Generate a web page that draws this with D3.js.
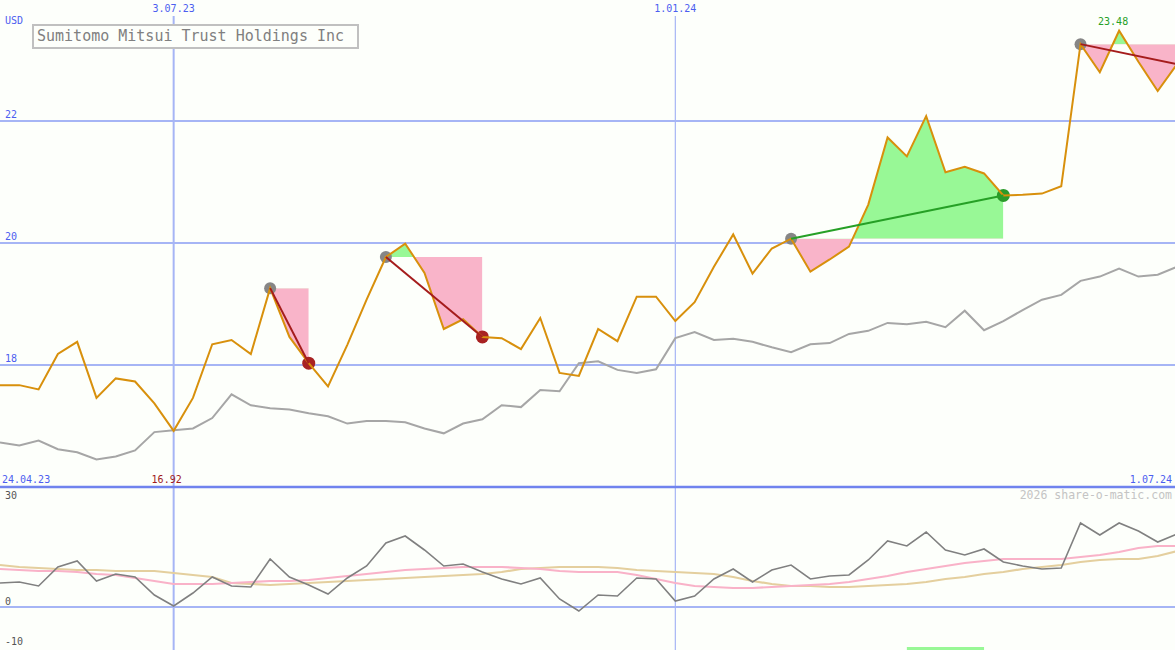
<!DOCTYPE html>
<html><head><meta charset="utf-8">
<script src="https://cdn.jsdelivr.net/npm/d3@7"></script>
<style>html,body{margin:0;padding:0;background:#fdfffb;} svg{display:block}</style>
</head><body><svg id="chart" width="1175" height="650"></svg>
<script>
// ---- data ----
const title = "Sumitomo Mitsui Trust Holdings Inc";
const currency = "USD";
const weeks = [
 "2023-05-01","2023-05-08","2023-05-15","2023-05-22","2023-05-29",
 "2023-06-05","2023-06-12","2023-06-19","2023-06-26",
 "2023-07-03","2023-07-10","2023-07-17","2023-07-24","2023-07-31",
 "2023-08-07","2023-08-14","2023-08-21","2023-08-28",
 "2023-09-04","2023-09-11","2023-09-18","2023-09-25",
 "2023-10-02","2023-10-09","2023-10-16","2023-10-23","2023-10-30",
 "2023-11-06","2023-11-13","2023-11-20","2023-11-27",
 "2023-12-04","2023-12-11","2023-12-18","2023-12-25",
 "2024-01-01","2024-01-08","2024-01-15","2024-01-22","2024-01-29",
 "2024-02-05","2024-02-12","2024-02-19","2024-02-26",
 "2024-03-04","2024-03-11","2024-03-18","2024-03-25",
 "2024-04-01","2024-04-08","2024-04-15","2024-04-22","2024-04-29",
 "2024-05-06","2024-05-13","2024-05-20","2024-05-27",
 "2024-06-03","2024-06-10","2024-06-17","2024-06-24",
 "2024-07-01"];
const price = [17.67,17.67,17.60,18.18,18.38,17.46,17.78,17.73,17.37,16.92,
 17.46,18.34,18.41,18.18,19.26,18.46,18.03,17.65,18.33,19.07,
 19.77,19.99,19.51,18.59,18.75,18.46,18.44,18.26,18.77,17.87,
 17.82,18.59,18.39,19.12,19.12,18.72,19.03,19.61,20.14,19.50,
 19.91,20.07,19.53,19.73,19.94,20.63,21.73,21.42,22.08,21.16,
 21.25,21.14,20.78,20.79,20.81,20.93,23.26,22.80,23.48,22.97,
 22.49,22.93];
const avgLine = [16.73,16.68,16.76,16.62,16.57,16.45,16.50,16.60,16.90,16.93,
 16.96,17.13,17.52,17.34,17.29,17.27,17.21,17.16,17.04,17.08,
 17.08,17.06,16.96,16.88,17.04,17.11,17.34,17.31,17.59,17.57,
 18.03,18.06,17.92,17.87,17.93,18.44,18.54,18.41,18.43,18.38,
 18.29,18.21,18.34,18.36,18.51,18.56,18.69,18.67,18.71,18.62,
 18.89,18.57,18.72,18.90,19.07,19.15,19.38,19.45,19.58,19.45,
 19.48,19.61];
const oscillator = [6.0,6.25,5.25,10,11.5,6.5,8.25,7.5,3,0.25,
 3.5,7.5,5.25,5,12,7.5,5.5,3.25,7.25,10.25,
 16,17.75,14.25,10.25,10.75,8.75,7,5.75,7.25,2,
 -1,3,2.75,7.25,7,1.5,2.75,7,9.5,6.25,
 9.25,10.5,7,7.75,8,11.75,16.5,15.25,18.75,14.25,
 13,14.5,11.25,10.25,9.5,9.75,21,18,21,19,
 16.25,18.25];
const oscPink = [9.5,9.25,9,9,8.75,8.25,8,7.25,6.5,5.75,
 5.75,5.75,6,6.25,6.5,6.5,6.75,7.25,7.75,8.25,
 8.75,9.25,9.5,9.75,10,10,10,9.75,9.5,9,
 8.75,8.75,8.75,8,7,6,5.25,5,4.75,4.75,
 5,5.25,5.5,5.75,6.25,7,7.75,8.75,9.5,10.25,
 11,11.5,12,12,12,12,12.5,13,13.75,14.75,
 15.25,15.25];
const oscTan = [10.5,10,9.75,9.5,9.25,9.25,9,9,9,8.5,
 8,7.5,6,5.75,5.5,5.75,6,6.25,6.5,6.75,
 7,7.25,7.5,7.75,8,8.25,8.75,9.5,9.75,10,
 10,10,9.75,9.25,9,8.75,8.5,8.25,7.5,6.5,
 5.75,5.25,5.25,5,5,5.25,5.5,5.75,6.25,7,
 7.5,8.25,8.75,9.5,10,10.5,11.25,11.75,12,12,
 12.75,14];
const priceTicks = [18, 20, 22];
const oscTicks = [30, 0, -10];
const dateTicks = ["2023-07-03", "2024-01-01"];
const dateTickLabels = ["3.07.23", "1.01.24"];
const startLabel = "24.04.23";
const endLabel = "1.07.24";
const tradeEntry = [14, 20, 41, 56];
const tradeExit  = [16, 25, 52, 61];
const tradeOpen  = [false, false, false, true];
const signalStart = [47];
const signalEnd = [51];
const credit = "2026 share-o-matic.com";

// ---- layout ----
const W = 1175, H = 650;
const mainBottom = 487;
const parse = d3.timeParse("%Y-%m-%d");
const dates = weeks.map(parse);
const x = d3.scaleTime().domain([dates[0], dates[dates.length-1]]).range([0, 1177]);
const yP = d3.scaleLinear().domain([18, 22]).range([365, 121]);
const yO = d3.scaleLinear().domain([0, 30]).range([607, 487]);

const svg = d3.select("#chart");
const font = "DejaVu Sans Mono, monospace";
const blue = "#4c5ef0";
const grid = "#a6b5f5";

svg.append("rect").attr("width", W).attr("height", H).attr("fill", "#fdfffb");

// horizontal grid (main)
svg.selectAll("line.hp").data(priceTicks).join("line")
  .attr("x1", 0).attr("x2", W).attr("y1", d => yP(d)).attr("y2", d => yP(d))
  .attr("stroke", grid).attr("stroke-width", 2);
// lower zero line
svg.append("line").attr("x1", 0).attr("x2", W).attr("y1", yO(0)).attr("y2", yO(0))
  .attr("stroke", grid).attr("stroke-width", 2);

// vertical date lines
svg.selectAll("line.v").data(dateTicks).join("line")
  .attr("x1", d => x(parse(d))).attr("x2", d => x(parse(d)))
  .attr("y1", 16).attr("y2", H)
  .attr("stroke", grid).attr("stroke-width", (d, i) => i === 0 ? 2 : 1.2);

// panel separator
svg.append("line").attr("x1", 0).attr("x2", W).attr("y1", yO(30)).attr("y2", yO(30))
  .attr("stroke", "#7083ee").attr("stroke-width", 2.5);

// trade fills
const defs = svg.append("defs");
const fills = svg.append("g");
tradeEntry.forEach((e, k) => {
  const xe = x(dates[e]), xx = x(dates[tradeExit[k]]);
  const ye = yP(price[e]);
  const idx = d3.range(e, tradeExit[k] + 1);
  const area = d3.area().x(i => x(dates[i])).y0(ye).y1(i => yP(price[i]));
  defs.append("clipPath").attr("id", "up" + k).append("rect")
    .attr("x", xe).attr("y", 0).attr("width", xx - xe).attr("height", ye);
  defs.append("clipPath").attr("id", "dn" + k).append("rect")
    .attr("x", xe).attr("y", ye).attr("width", xx - xe).attr("height", mainBottom - ye);
  fills.append("path").datum(idx).attr("d", area).attr("fill", "#98f896")
    .attr("clip-path", `url(#up${k})`);
  fills.append("path").datum(idx).attr("d", area).attr("fill", "#f9b4c9")
    .attr("clip-path", `url(#dn${k})`);
});

// moving average line
const lineP = d3.line().x((d, i) => x(dates[i])).y(d => yP(d));
svg.append("path").datum(avgLine).attr("d", lineP).attr("fill", "none")
  .attr("stroke", "#a6a6a6").attr("stroke-width", 2);

// dots (beneath price line)
tradeEntry.forEach((e, k) => {
  svg.append("circle").attr("cx", x(dates[e])).attr("cy", yP(price[e])).attr("r", 6)
    .attr("fill", "#868686");
  if (!tradeOpen[k]) {
    const xi = tradeExit[k];
    const win = price[xi] > price[e];
    svg.append("circle").attr("cx", x(dates[xi])).attr("cy", yP(price[xi])).attr("r", 6.5)
      .attr("fill", win ? "#2a9a2a" : "#a82222");
  }
});

// price line
svg.append("path").datum(price).attr("d", lineP).attr("fill", "none")
  .attr("stroke", "#d8900c").attr("stroke-width", 2);

// trade lines
tradeEntry.forEach((e, k) => {
  const xi = tradeExit[k];
  const win = price[xi] > price[e];
  svg.append("line").attr("x1", x(dates[e])).attr("y1", yP(price[e]))
    .attr("x2", x(dates[xi])).attr("y2", yP(price[xi]))
    .attr("stroke", win ? "#26a026" : "#a51c1c").attr("stroke-width", 2);
});

// lower panel lines
const lineO = d3.line().x((d, i) => x(dates[i])).y(d => yO(d));
svg.append("path").datum(oscTan).attr("d", lineO).attr("fill", "none")
  .attr("stroke", "#e4cf9e").attr("stroke-width", 2.2);
svg.append("path").datum(oscPink).attr("d", lineO).attr("fill", "none")
  .attr("stroke", "#f9b2c8").attr("stroke-width", 2.2);
svg.append("path").datum(oscillator).attr("d", lineO).attr("fill", "none")
  .attr("stroke", "#808080").attr("stroke-width", 1.6);

// signal bar
signalStart.forEach((s, k) => {
  svg.append("rect").attr("x", x(dates[s])).attr("y", yO(-10))
    .attr("width", x(dates[signalEnd[k]]) - x(dates[s])).attr("height", 4)
    .attr("fill", "#98f896");
});

// text
const txt = (t, xx, yy, opts = {}) => svg.append("text").text(t)
  .attr("x", xx).attr("y", yy).attr("font-family", font)
  .attr("font-size", opts.size || 10).attr("fill", opts.fill || blue)
  .attr("text-anchor", opts.anchor || "start");

txt(currency, 5, 24);
priceTicks.forEach(v => txt(String(v), 5, yP(v) - 3));
dateTicks.forEach((d, i) => txt(dateTickLabels[i], x(parse(d)), 12, {anchor: "middle"}));
txt(startLabel, 2, 483);
txt(endLabel, 1172, 483, {anchor: "end"});
oscTicks.forEach(v => txt(String(v), 5, v === 30 ? 499 : yO(v) - 2, {fill: "#555555"}));
txt(credit, 1172, 499, {size: 11.5, fill: "#c4c4c4", anchor: "end"});

// min / max labels
const maxI = d3.maxIndex(price), minI = d3.minIndex(price);
txt(price[maxI].toFixed(2), x(dates[maxI]) - 6, yP(price[maxI]) - 6, {fill: "#27a027", anchor: "middle"});
txt(price[minI].toFixed(2), x(dates[minI]) - 7, 483, {fill: "#a01c1c", anchor: "middle"});

// title box
svg.append("rect").attr("x", 33).attr("y", 25).attr("width", 325).attr("height", 23)
  .attr("fill", "#fdfffb").attr("stroke", "#c0c0c0").attr("stroke-width", 2);
txt(title, 37, 41, {size: 15, fill: "#808080"});
</script>
</body></html>
